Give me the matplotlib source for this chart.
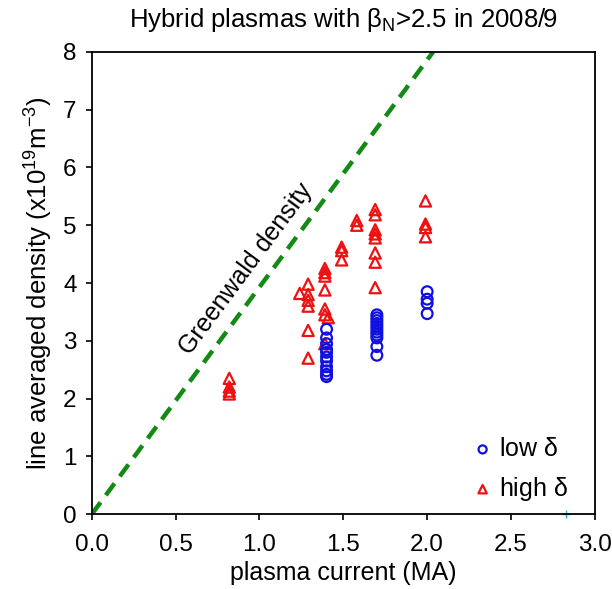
import matplotlib as mpl
import matplotlib.pyplot as plt
import numpy as np

mpl.use('Agg')
plt.rcParams['font.family'] = ['Liberation Sans', 'DejaVu Sans']
plt.rcParams['mathtext.fontset'] = 'custom'
plt.rcParams['mathtext.rm'] = 'Liberation Sans'
plt.rcParams['mathtext.it'] = 'Liberation Sans'

# low triangularity shots (plasma current MA, density 1e19 m^-3)
low_ip = [1.4] * 11 + [1.7] * 11 + [2.0] * 4
low_ne = [3.2, 3.05, 2.95, 2.85, 2.8, 2.72, 2.65, 2.55, 2.48, 2.42, 2.38,
          3.45, 3.4, 3.35, 3.3, 3.25, 3.2, 3.15, 3.1, 3.05, 2.9, 2.75,
          3.85, 3.72, 3.65, 3.47]

# high triangularity shots
high_ip = [0.82, 0.82, 0.82, 0.82,
           1.24,
           1.29, 1.29, 1.29, 1.29, 1.29, 1.29,
           1.39, 1.39, 1.39, 1.39, 1.39, 1.39, 1.39, 1.41,
           1.49, 1.49, 1.49,
           1.58, 1.58,
           1.69, 1.69, 1.69, 1.69, 1.69, 1.69, 1.69, 1.69,
           1.99, 1.99, 1.99, 1.99]
high_ne = [2.35, 2.2, 2.13, 2.08,
           3.82,
           3.98, 3.8, 3.7, 3.6, 3.18, 2.7,
           4.25, 4.18, 4.12, 3.88, 3.55, 3.45, 2.95, 3.4,
           4.62, 4.56, 4.4,
           5.08, 5.0,
           5.27, 5.18, 4.92, 4.85, 4.78, 4.52, 4.36, 3.92,
           5.42, 5.02, 4.96, 4.8]

# Greenwald limit slope (1e19 m^-3 per MA)
gw_slope = 3.93
gw_ip = np.array([0.0, 8.0 / gw_slope])

fig = plt.figure(figsize=(6.12, 5.89), dpi=100)
ax = fig.add_axes([0.150, 0.127, 0.822, 0.785])

ax.plot(gw_ip, gw_slope * gw_ip, color='#138a13', lw=3.2, ls=(0, (3.3, 2.0)),
        zorder=1)
ax.scatter(low_ip, low_ne, s=60, facecolors='none', edgecolors='#1010e0',
           linewidths=1.6, marker='o', label=r'low $\delta$', zorder=3)
ax.scatter(high_ip, high_ne, s=65, facecolors='none', edgecolors='#ee1111',
           linewidths=1.6, marker='^', label=r'high $\delta$', zorder=2)
ax.plot([2.83], [0], marker='+', color='#20b0c0', ms=6, clip_on=False)

ax.text(0.92, 4.25, 'Greenwald density', rotation=53.4, fontsize=18,
        ha='center', va='center', rotation_mode='anchor')

ax.set_xlim(0, 3.0)
ax.set_ylim(0, 8)
ax.set_xticks(np.arange(0, 3.01, 0.5))
ax.set_xticklabels(['0.0', '0.5', '1.0', '1.5', '2.0', '2.5', '3.0'])
ax.set_yticks(range(9))
ax.tick_params(labelsize=17.5, direction='out', length=4, width=1.2)
ax.tick_params(axis='x', pad=10)
ax.tick_params(axis='y', pad=7)
for s in ax.spines.values():
    s.set_linewidth(1.3)

ax.set_xlabel('plasma current (MA)', fontsize=18, labelpad=4)
ax.set_ylabel(r'line averaged density (x10$^{19}$m$^{-3}$)', fontsize=18.5,
              labelpad=6)
ax.set_title(r'Hybrid plasmas with $\beta_{\rm N}$>2.5 in 2008/9',
             fontsize=18.5, pad=18)

ax.legend(loc='upper left', frameon=False, fontsize=18, handlelength=0.8,
          handletextpad=0.25, markerscale=0.75, borderpad=0, borderaxespad=0,
          labelspacing=0.55, bbox_to_anchor=(0.757, 0.167))

fig.savefig('out.png', dpi=100)
